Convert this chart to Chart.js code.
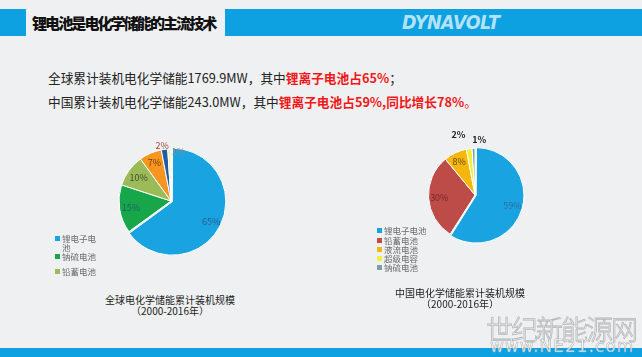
<!DOCTYPE html>
<html><head><meta charset="utf-8">
<script src="https://cdn.jsdelivr.net/npm/chart.js@4/dist/chart.umd.min.js"></script>
<style>
html,body{margin:0;padding:0;}
body{width:642px;height:357px;background:#eff0f2;position:relative;overflow:hidden;font-family:"Noto Sans CJK SC","Noto Sans",sans-serif;}
.abs{position:absolute;}
#bandL{left:0;top:9px;width:26px;height:27px;background:#0ea1e2;}
#bandR{left:225px;top:9px;width:417px;height:27px;background:#0ea1e2;}
#title{left:32px;top:10px;height:26px;line-height:26px;font-size:15px;font-weight:900;color:#111;letter-spacing:-1.9px;white-space:nowrap;}
#logo{left:402px;top:9px;height:27px;line-height:27px;font-family:"DejaVu Sans";font-weight:bold;font-style:italic;font-size:19px;color:#b4e2f8;letter-spacing:-0.5px;transform:scaleX(0.92);transform-origin:left center;}
.line{left:48px;font-size:12.7px;color:#222;white-space:nowrap;line-height:16px;}
.red{color:#f01818;font-weight:bold;}
#bottom{left:0;top:348px;width:642px;height:9px;background:#0ea1e2;}
.cap{font-size:10px;color:#222;text-align:center;line-height:11px;white-space:nowrap;transform:translateX(-50%);}
.leg{font-size:8.5px;color:#6a6a6a;line-height:9px;}
.leg .sq{position:absolute;width:5px;height:5px;left:0;top:2px;}
.leg .tx{position:absolute;left:7px;top:0;}
#wm1{left:486px;top:309px;font-size:27px;color:rgba(255,255,255,0.8);-webkit-text-stroke:0.8px rgba(160,160,160,0.75);letter-spacing:-2px;white-space:nowrap;font-weight:300;}
#wm2{left:490px;top:336px;font-size:17px;color:rgba(255,255,255,0.75);-webkit-text-stroke:0.6px rgba(160,160,160,0.75);letter-spacing:1px;white-space:nowrap;font-family:"DejaVu Sans";}
canvas{position:absolute;}
</style></head>
<body>
<div id="bandL" class="abs"></div>
<div id="bandR" class="abs"></div>
<div id="title" class="abs">锂电池是电化学储能的主流技术</div>
<div id="logo" class="abs">DYNAVOLT</div>
<div class="abs line" style="top:70px;">全球累计装机电化学储能1769.9MW，其中<span class="red">锂离子电池占65%</span>；</div>
<div class="abs line" style="top:94px;">中国累计装机电化学储能243.0MW，其中<span class="red">锂离子电池占59%,同比增长78%</span><span class="red" style="font-weight:normal">。</span></div>

<canvas id="pieGlobal" width="160" height="160" style="left:91px;top:121px;"></canvas>
<canvas id="pieChina" width="160" height="160" style="left:395px;top:115px;"></canvas>

<div id="legGlobal"></div>
<div id="legChina"></div>

<div class="abs cap" style="left:170px;top:294px;">全球电化学储能累计装机规模<br>（2000-2016年）</div>
<div class="abs cap" style="left:460px;top:287px;">中国电化学储能累计装机规模<br>（2000-2016年）</div>

<div id="bottom" class="abs"></div>
<div id="wm1" class="abs">世纪新能源网</div>
<div id="wm2" class="abs">www.NE21.com</div>

<script>
// ---- data ----
const globalLabels = ["锂电子电池", "钠硫电池", "铅蓄电池", "液流电池", "超级电容", "其他"];
const globalValues = [65, 15, 10, 7, 2, 1];
const globalColors = ["#19a3e1", "#17a64a", "#9bbb59", "#f7951e", "#1f5ea6", "#f5f2b4"];
const globalLegendCount = 3;

const chinaLabels = ["锂电子电池", "铅蓄电池", "液流电池", "超级电容", "钠硫电池"];
const chinaValues = [59, 30, 8, 2, 1];
const chinaColors = ["#19a3e1", "#bd4b47", "#f6b60c", "#f4ef3a", "#7d9ea3"];

// ---- styles for labels ----
const globalLabelStyle = {
  frac: [0.75, 0.78, 0.77, 0.8, 1.07, 0.95],
  dx:   [0, 0, 0, 0, -2, 9],
  color:["#2c5f8e", "#1e5f66", "#3f4f32", "#6e3a14", "#a04a2a", "#8a8a8a"],
  bold: [false,false,false,false,false,false]
};
const chinaLabelStyle = {
  frac: [0.73, 0.77, 0.8, 1.3, 1.19],
  dx:   [0, 0, 0, -9, 6],
  color:["#2f6d9e", "#7a2a2a", "#6a4a00", "#222222", "#222222"],
  bold: [false,false,false,true,true]
};

function makeLabelPlugin(style){
  return {
    id:'pctLabels',
    afterDatasetsDraw(chart){
      const ctx = chart.ctx;
      const meta = chart.getDatasetMeta(0);
      const vals = chart.data.datasets[0].data;
      ctx.save();
      ctx.textAlign='center'; ctx.textBaseline='middle';
      meta.data.forEach((arc,i)=>{
        const p = arc.getProps(['x','y','startAngle','endAngle','outerRadius'], true);
        const mid = (p.startAngle+p.endAngle)/2;
        const off = arc.options.offset || 0;
        const r = p.outerRadius*style.frac[i] + off;
        const x = p.x + Math.cos(mid)*r + style.dx[i];
        const y = p.y + Math.sin(mid)*r;
        ctx.font = (style.bold[i]?'bold ':'') + '9px "Noto Sans CJK SC", sans-serif';
        ctx.fillStyle = style.color[i];
        ctx.fillText(vals[i]+'%', x, y);
      });
      ctx.restore();
    }
  };
}

function makePie(id, labels, values, colors, offsetFirst, padding, style){
  const offs = values.map((v,i)=> i===0 ? offsetFirst : 0);
  return new Chart(document.getElementById(id), {
    type:'pie',
    data:{labels:labels, datasets:[{data:values, backgroundColor:colors, borderColor:'#ffffff', borderWidth:1, offset:offs}]},
    options:{responsive:false, animation:false, layout:{padding:padding},
      plugins:{legend:{display:false}, tooltip:{enabled:false}}},
    plugins:[makeLabelPlugin(style)]
  });
}

makePie('pieGlobal', globalLabels, globalValues, globalColors, 6, 24.5, globalLabelStyle);
makePie('pieChina', chinaLabels, chinaValues, chinaColors, 5, 30.5, chinaLabelStyle);

// ---- legends ----
function buildLegend(el, labels, colors, count, left, tops, textWidth){
  el.className='abs leg';
  el.style.left=left+'px'; el.style.top='0px';
  for(let i=0;i<count;i++){
    const item=document.createElement('div');
    item.style.position='absolute'; item.style.left='0px'; item.style.top=tops[i]+'px';
    const sq=document.createElement('div'); sq.className='sq'; sq.style.background=colors[i];
    const tx=document.createElement('div'); tx.className='tx'; tx.textContent=labels[i];
    if(textWidth) tx.style.width=textWidth+'px';
    tx.style.whiteSpace = textWidth ? 'normal' : 'nowrap';
    item.appendChild(sq); item.appendChild(tx); el.appendChild(item);
  }
}
buildLegend(document.getElementById('legGlobal'), globalLabels, globalColors, globalLegendCount, 55, [234, 252, 267], 36);
buildLegend(document.getElementById('legChina'), chinaLabels, chinaColors, chinaLabels.length, 377, [226, 235.5, 244.5, 253.5, 263], 0);
</script>
</body></html>
